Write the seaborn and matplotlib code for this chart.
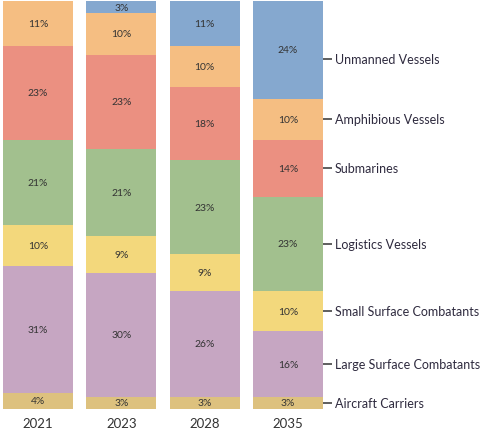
import numpy as np
import pandas as pd
import matplotlib
matplotlib.use("Agg")
import matplotlib.pyplot as plt
import seaborn as sns

# data, bottom to top
years = ["2021", "2023", "2028", "2035"]
categories = ["Aircraft Carriers", "Large Surface Combatants", "Small Surface Combatants",
              "Logistics Vessels", "Submarines", "Amphibious Vessels", "Unmanned Vessels"]
aircraft_carriers = [4, 3, 3, 3]
large_surface = [31, 30, 26, 16]
small_surface = [10, 9, 9, 10]
logistics = [21, 21, 23, 23]
submarines = [23, 23, 18, 14]
amphibious = [11, 10, 10, 10]
unmanned = [0, 3, 11, 24]
colors = ["#DDC17E", "#C6A6C2", "#F3D87C", "#A2C08E", "#EB9081", "#F5BE82", "#85A8CF"]

vals = np.array([aircraft_carriers, large_surface, small_surface, logistics,
                 submarines, amphibious, unmanned], dtype=float)
shares = vals / vals.sum(axis=0) * 100
cum = np.cumsum(shares, axis=0)

sns.set_style("white")
plt.rcParams['font.family'] = ['Lato', 'DejaVu Sans']

fig = plt.figure(figsize=(4.98, 4.31), dpi=100)
ax = fig.add_axes([0, 21 / 431, 330 / 498, 408 / 431])

# draw cumulative bars from top layer down so each layer covers the one above
for i in range(len(categories) - 1, -1, -1):
    df = pd.DataFrame({"year": years, "top": cum[i]})
    sns.barplot(data=df, x="year", y="top", color=colors[i], width=0.84,
                saturation=1, ax=ax, linewidth=0)

# segment labels
for i in range(len(categories)):
    for j in range(len(years)):
        if vals[i, j] <= 0:
            continue
        mid = cum[i, j] - shares[i, j] / 2
        ax.text(j, mid, f"{int(vals[i, j])}%", ha="center", va="center",
                fontsize=7.5, color="#333333")

# right-hand labels with short leader ticks at the 2035 bar
last = len(years) - 1
px = 1 / 83.33  # one pixel in x data units
x0 = last + 0.42
for i, name in enumerate(categories):
    mid = cum[i, last] - shares[i, last] / 2
    if name == "Unmanned Vessels":
        mid -= 2.3  # label sits a little below the segment centre
    ax.plot([x0, x0 + 9 * px], [mid, mid], color="#333333", lw=1.1,
            clip_on=False, solid_capstyle="butt")
    ax.text(x0 + 12 * px, mid, name, ha="left", va="center",
            fontsize=9, color="#2e2a3e", clip_on=False)

ax.set_xlim(-38 / 83.33, (330 - 38) / 83.33)
ax.set_ylim(0, 100)
ax.set_xlabel("")
ax.set_ylabel("")
ax.set_yticks([])
ax.tick_params(axis="x", length=0, pad=6, labelsize=9.5, labelcolor="#333333")
sns.despine(ax=ax, left=True, bottom=True)

fig.savefig("out.png", dpi=100)
